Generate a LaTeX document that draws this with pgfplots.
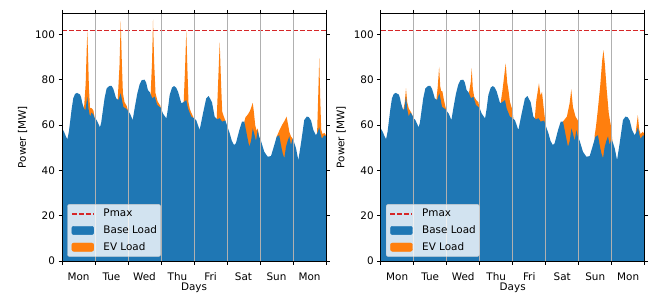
\documentclass[border=0pt]{standalone}
\usepackage{fontspec}
\setmainfont{DejaVu Sans}
\usepackage{pgfplots}
\usepackage{pgfplotstable}
\pgfplotsset{compat=1.18}
\definecolor{tabblue}{HTML}{1F77B4}
\definecolor{taborange}{HTML}{FF7F0E}
\definecolor{tabred}{HTML}{D62728}
\definecolor{gridgray}{HTML}{B0B0B0}
\definecolor{leggray}{HTML}{CCCCCC}

\pgfplotstableread{
h v
0 58.5
1.5 57
2.8 55
3.9 53.7
5 57
6 62
7 67
8.2 71.8
9.5 73.7
11 74.2
12 73.8
13.1 73.5
14 72
14.8 69.6
16 67.3
17 66.5
18.4 72.5
19.3 67
20.4 63.7
21.5 65.5
22.8 64.6
23.8 63
25.2 62.2
26.5 60.5
27.6 59
28.5 61
29.6 65.9
31 72
32.5 76.2
34.4 77.2
36 77.3
37.3 76
38.3 74
39.3 71.8
41 71
42.7 74
44.6 68
47 67
49.5 65
51.4 62.2
53 68
54.8 74
56.5 78
58 79.8
60 80
61.1 78.9
62.5 75.4
63.8 74.5
65.7 71.8
67.4 72.5
69.3 68.8
71.8 67.6
73.5 65
75.9 62.9
77 67
78.3 73.2
80 76.5
81.5 77.2
83 76.5
84.4 74.7
86.8 69.6
88.7 70.2
90.4 71
91.6 67.3
94 63.7
96 63
97.7 62
100.1 57.8
102.5 65
104.9 71.8
106.7 72.8
109.1 70
111 63.7
112.8 62.5
114.7 63
116.4 61.5
118.8 62
121 58
122 56.3
123.5 53
125.1 51.2
126.5 51.9
128 55.5
129 57.8
130.9 61.5
132.6 61.5
133.8 57.8
135 54
136.2 50.4
137.5 53
138.7 58.5
139.9 56
141.1 53
142.3 57.8
143.3 55
144.7 53
147.1 48.2
149.6 46
152 46.3
154.4 51.2
156.1 54.8
158 55.5
159.3 51
160.5 47.5
161.7 45.3
162.9 50.4
164.1 53
165.3 55
166.5 51.2
167.7 54
169 52
170.2 49.7
171.9 44.5
173.8 52
176.2 62.2
178 63.7
179.5 63.5
181.1 62
182.8 57.8
184.7 55.5
186 57
187.1 59
188 56
189 54
190.8 55.5
192 55
}\baseload

\pgfplotsset{
  myax/.style={
    scale only axis, width=264bp, height=247.7bp,
    xmin=0, xmax=192, ymin=0, ymax=109.3,
    xtick={0,24,...,192}, xticklabels={},
    extra x ticks={12,36,...,180},
    extra x tick labels={Mon,Tue,Wed,Thu,Fri,Sat,Sun,Mon},
    extra x tick style={major tick length=0pt, grid=none,
      xticklabel style={yshift=-8bp}},
    ytick={0,20,...,100},
    /pgf/number format/assume math mode=true,
    tick align=outside, major tick length=3.5bp,
    tick style={black, line width=0.6bp},
    xmajorgrids, grid style={color=gridgray, line width=0.7bp},
    axis on top, axis line style={line width=0.7bp},
    xlabel={Days}, ylabel={Power [MW]},
    xlabel style={at={(axis description cs:0.5,-0.076)}, anchor=north},
    ylabel style={at={(axis description cs:-0.1496,0.5)}, anchor=center},
    legend cell align=left,
    legend style={at={(axis description cs:0,0)}, anchor=south west,
      xshift=5.3bp, yshift=4.3bp, draw=leggray, rounded corners=2bp,
      fill=white, fill opacity=0.8, text opacity=1, draw opacity=1,
      inner xsep=3.5bp, inner ysep=1bp, row sep=0pt, column sep=9bp,
      nodes={inner sep=0pt, minimum height=16.7bp}},
  },
  pmaxline/.style={color=tabred, line width=1.5bp, dash pattern=on 5bp off 2bp},
  evarea/.style={fill=taborange, draw=none, forget plot},
  basearea/.style={fill=tabblue, draw=none, forget plot},
}

\newcommand{\legendentries}{%
  \addlegendimage{legend image code/.code={\draw[color=tabred, line width=1.5bp, dash pattern=on 5bp off 2bp, draw opacity=1] (0bp,0bp) -- (22bp,0bp);}}
  \addlegendentry{Pmax}
  \addlegendimage{legend image code/.code={\fill[tabblue, fill opacity=1] (0bp,-4.2bp) rectangle (22bp,4.2bp);}}
  \addlegendentry{Base Load}
  \addlegendimage{legend image code/.code={\fill[taborange, fill opacity=1] (0bp,-4.2bp) rectangle (22bp,4.2bp);}}
  \addlegendentry{EV Load}
}

\begin{document}
\begin{tikzpicture}[font=\fontsize{10.4bp}{12.4bp}\selectfont]
\begin{axis}[myax, at={(62bp,33bp)}, anchor=south west]
\legendentries
\addplot[evarea] coordinates {(16,67.3) (17.2,78) (17.9,92) (18.4,101.5) (18.9,92) (19.6,76) (20.4,67.5) (21.5,67.5) (22.8,66.5) (23.8,63)} \closedcycle;
\addplot[evarea] coordinates {(40.5,71) (41.8,86) (42.7,105.8) (43.5,88) (44.3,74) (45.5,70) (47,68.5) (48.2,66)} \closedcycle;
\addplot[evarea] coordinates {(64.5,74) (65.5,88) (66.2,106.5) (67,88) (68,74) (69.5,70.5) (71.5,68.5) (72.5,66)} \closedcycle;
\addplot[evarea] coordinates {(88.5,70.2) (89.5,85) (90.4,101.5) (91.2,85) (92,70) (93,67) (94,65.5) (95.5,63.5)} \closedcycle;
\addplot[evarea] coordinates {(112.5,62.5) (113.5,78) (114.7,96.5) (115.7,78) (116.5,66) (117.5,64) (118.8,62)} \closedcycle;
\addplot[evarea] coordinates {(132.6,61.5) (133.5,63.5) (135,64.5) (136.5,66) (137.5,67.5) (138.7,69.8) (139.5,66) (140.5,60) (141.5,57.5) (142.3,58.5) (143.3,55)} \closedcycle;
\addplot[evarea] coordinates {(156.1,54.8) (158,57.5) (160,60) (162,62) (163.3,63.7) (164.5,60) (165.3,57) (166.5,55) (167.7,54)} \closedcycle;
\addplot[evarea] coordinates {(185.5,56) (186.3,72) (187.1,89.5) (187.8,72) (188.5,58) (189.5,56) (190.8,56.5) (192,55.5)} \closedcycle;
\addplot[basearea] table[x=h, y=v] {\baseload} \closedcycle;
\addplot[pmaxline, forget plot] coordinates {(0,101.6) (192,101.6)};
\end{axis}
\begin{axis}[myax, at={(380.7bp,33bp)}, anchor=south west]
\legendentries
\addplot[evarea] coordinates {(16.5,66.8) (17.5,70) (18.4,76.2) (19.3,70) (20.4,67.3) (22.2,65.5) (23.8,63)} \closedcycle;
\addplot[evarea] coordinates {(40.5,71) (41.5,77) (42.5,85.7) (43.3,77) (44,75) (44.8,75) (46,71) (47.5,67)} \closedcycle;
\addplot[evarea] coordinates {(64.2,74.3) (65.5,79) (66.2,85) (67,76) (68,72.5) (69.5,71) (71.1,70) (72.2,66)} \closedcycle;
\addplot[evarea] coordinates {(87.3,70) (88.5,75) (89.8,81.6) (90.9,87.2) (92,78.7) (93,75) (94,70.2) (95.8,66.5) (96.5,63)} \closedcycle;
\addplot[evarea] coordinates {(112,62.6) (113.2,71) (115.1,78.4) (116.2,73) (117.3,74.5) (118.5,67.8) (119.6,62)} \closedcycle;
\addplot[evarea] coordinates {(132.5,61.5) (135.4,63.7) (137.4,69.6) (138.6,75.7) (139.8,68) (141.7,63.7) (143.4,62) (144.2,55)} \closedcycle;
\addplot[evarea] coordinates {(155.5,55) (156.5,59) (157.9,66.6) (159.6,77) (161.1,88.7) (162,93) (163,87) (164.4,75.4) (165.9,65) (167.6,59) (168.5,53)} \closedcycle;
\addplot[evarea] coordinates {(185.5,57) (187,64.4) (188,58) (189,56) (190.5,57) (192,56)} \closedcycle;
\addplot[basearea] table[x=h, y=v] {\baseload} \closedcycle;
\addplot[pmaxline, forget plot] coordinates {(0,101.6) (192,101.6)};
\end{axis}
\pgfresetboundingbox
\path[use as bounding box] (0,0) rectangle (654bp,294bp);
\end{tikzpicture}
\end{document}
